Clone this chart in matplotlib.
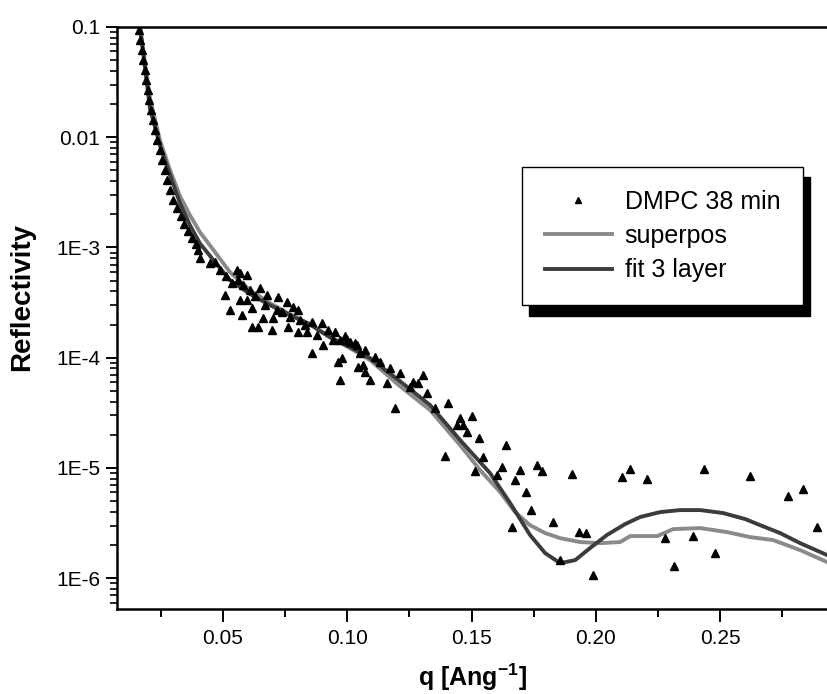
import numpy as np
import matplotlib
matplotlib.use('Agg')
from matplotlib import pyplot as plt
from matplotlib.ticker import FixedLocator, LogLocator, FuncFormatter, NullFormatter

plt.rcParams['font.family'] = 'Liberation Sans'
plt.rcParams['mathtext.fontset'] = 'custom'
plt.rcParams['mathtext.rm'] = 'Liberation Sans'
plt.rcParams['mathtext.bf'] = 'Liberation Sans:bold'

# measured data, DMPC 38 min
data_q = [0.0162, 0.0166, 0.0174, 0.0178, 0.0186, 0.0190, 0.0198, 0.0202, 0.0210, 0.0218,
          0.0226, 0.0234, 0.0246, 0.0255, 0.0267, 0.0275, 0.0287, 0.0299, 0.0315, 0.0331,
          0.0343, 0.0359, 0.0375, 0.0391, 0.0399, 0.0407,
          0.0448, 0.0468, 0.0488, 0.0508, 0.0512, 0.0528, 0.0536, 0.0556, 0.0560, 0.0568,
          0.0568, 0.0576, 0.0580, 0.0597, 0.0597, 0.0609, 0.0617, 0.0617, 0.0629, 0.0641,
          0.0649, 0.0661, 0.0669, 0.0677, 0.0697, 0.0701, 0.0717, 0.0721, 0.0737, 0.0758,
          0.0762, 0.0770, 0.0782, 0.0802, 0.0802, 0.0810, 0.0830, 0.0838, 0.0858, 0.0858,
          0.0878, 0.0898, 0.0902, 0.0923, 0.0943, 0.0951, 0.0963, 0.0971, 0.0971, 0.0979,
          0.0991, 0.0999, 0.1011, 0.1031, 0.1039, 0.1043, 0.1051, 0.1063, 0.1071, 0.1071,
          0.1092, 0.1112, 0.1132, 0.1160, 0.1172, 0.1192, 0.1212, 0.1252, 0.1265, 0.1285,
          0.1305, 0.1321, 0.1353, 0.1393, 0.1405, 0.1442, 0.1454, 0.1466, 0.1482, 0.1502,
          0.1514, 0.1530, 0.1546, 0.1603, 0.1623, 0.1639, 0.1663, 0.1675, 0.1695, 0.1719,
          0.1739, 0.1764, 0.1784, 0.1828, 0.1856, 0.1904, 0.1933, 0.1961, 0.1989, 0.2106,
          0.2138, 0.2206, 0.2279, 0.2315, 0.2391, 0.2436, 0.2480, 0.2621, 0.2774, 0.2834,
          0.2890]
data_R = [0.0933, 0.0757, 0.0615, 0.0499, 0.0405, 0.0329, 0.0267, 0.0216, 0.0176, 0.0143,
          0.0116, 0.00939, 0.00762, 0.00618, 0.00502, 0.00407, 0.00331, 0.00268, 0.00227, 0.00192,
          0.00163, 0.00141, 0.00121, 0.00107, 9.45e-4, 8.0e-4,
          7.21e-4, 7.36e-4, 6.22e-4, 3.69e-4, 5.49e-4, 2.70e-4, 4.74e-4, 6.22e-4, 5.05e-4, 5.85e-4,
          3.33e-4, 2.43e-4, 4.55e-4, 5.61e-4, 3.33e-4, 4.10e-4, 2.82e-4, 1.89e-4, 3.62e-4, 1.89e-4,
          4.28e-4, 2.29e-4, 3.00e-4, 3.69e-4, 1.78e-4, 2.29e-4, 2.70e-4, 3.54e-4, 2.59e-4, 3.19e-4,
          1.89e-4, 2.33e-4, 2.88e-4, 2.70e-4, 1.71e-4, 2.19e-4, 1.98e-4, 1.71e-4, 2.10e-4, 1.10e-4,
          1.60e-4, 2.06e-4, 1.30e-4, 1.78e-4, 1.44e-4, 1.71e-4, 9.12e-5, 1.44e-4, 6.26e-5, 9.92e-5,
          1.57e-4, 1.44e-4, 1.38e-4, 1.36e-4, 1.30e-4, 8.22e-5, 1.10e-4, 8.57e-5, 1.17e-4, 7.40e-5,
          6.26e-5, 1.01e-4, 9.12e-5, 5.89e-5, 8.05e-5, 3.49e-5, 7.26e-5, 5.42e-5, 6.01e-5, 5.89e-5,
          6.96e-5, 4.78e-5, 3.49e-5, 1.28e-5, 3.88e-5, 2.45e-5, 2.83e-5, 2.45e-5, 2.12e-5, 2.95e-5,
          9.37e-6, 1.87e-5, 1.26e-5, 8.62e-6, 1.02e-5, 1.61e-5, 2.91e-6, 7.77e-6, 9.57e-6, 6.05e-6,
          4.15e-6, 1.06e-5, 9.37e-6, 3.23e-6, 1.46e-6, 8.80e-6, 2.62e-6, 2.57e-6, 1.07e-6, 8.27e-6,
          9.77e-6, 7.93e-6, 2.31e-6, 1.29e-6, 2.41e-6, 9.77e-6, 1.69e-6, 8.44e-6, 5.56e-6, 6.44e-6,
          2.91e-6]

# superposition curve
sup_q = [0.0166, 0.0206, 0.0246, 0.0287, 0.0327, 0.0367, 0.0407, 0.0468, 0.0528, 0.0609,
         0.0689, 0.0770, 0.0850, 0.0931, 0.1011, 0.1092, 0.1212, 0.1333, 0.1454, 0.1534,
         0.1615, 0.1675, 0.1735, 0.1796, 0.1856, 0.1937, 0.2017, 0.2098, 0.2138, 0.2247,
         0.2311, 0.2420, 0.2528, 0.2621, 0.2713, 0.2822, 0.2931]
sup_R = [1.0e-1, 2.26e-2, 9.40e-3, 5.02e-3, 2.92e-3, 1.96e-3, 1.38e-3, 9.06e-4, 5.97e-4, 4.10e-4,
         3.13e-4, 2.48e-4, 2.01e-4, 1.53e-4, 1.22e-4, 9.51e-5, 5.52e-5, 3.35e-5, 1.61e-5, 9.57e-6,
         6.05e-6, 3.98e-6, 3.03e-6, 2.57e-6, 2.31e-6, 2.13e-6, 2.08e-6, 2.13e-6, 2.41e-6, 2.41e-6,
         2.79e-6, 2.85e-6, 2.62e-6, 2.36e-6, 2.22e-6, 1.80e-6, 1.40e-6]

# 3 layer fit
fit_q = [0.0166, 0.0206, 0.0246, 0.0287, 0.0327, 0.0367, 0.0407, 0.0468, 0.0528, 0.0609,
         0.0689, 0.0770, 0.0850, 0.0931, 0.1011, 0.1092, 0.1212, 0.1333, 0.1454, 0.1574,
         0.1655, 0.1735, 0.1796, 0.1856, 0.1917, 0.1977, 0.2045, 0.2118, 0.2178, 0.2259,
         0.2339, 0.2420, 0.2512, 0.2601, 0.2661, 0.2741, 0.2822, 0.2931]
fit_R = [1.0e-1, 1.83e-2, 8.47e-3, 4.53e-3, 2.52e-3, 1.59e-3, 1.09e-3, 7.36e-4, 5.06e-4, 3.78e-4,
         3.00e-4, 2.43e-4, 2.01e-4, 1.53e-4, 1.25e-4, 9.91e-5, 6.12e-5, 3.72e-5, 1.79e-5, 9.0e-6,
         4.81e-6, 2.47e-6, 1.69e-6, 1.37e-6, 1.46e-6, 1.88e-6, 2.47e-6, 3.10e-6, 3.59e-6, 3.98e-6,
         4.15e-6, 4.15e-6, 3.90e-6, 3.44e-6, 3.03e-6, 2.57e-6, 2.08e-6, 1.62e-6]

x_major = [0.05, 0.10, 0.15, 0.20, 0.25]
x_minor = [0.025, 0.075, 0.125, 0.175, 0.225, 0.275]
y_labels = {1e-6: '1E-6', 1e-5: '1E-5', 1e-4: '1E-4', 1e-3: '1E-3', 1e-2: '0.01', 1e-1: '0.1'}

fig = plt.figure(figsize=(8.27, 6.94), dpi=100)
ax = fig.add_axes([0.1415, 0.1225, 0.8585, 0.8386])

ax.plot(sup_q, sup_R, color='#8a8a8a', lw=2.8, label='superpos', zorder=2)
ax.plot(fit_q, fit_R, color='#3c3c3c', lw=2.8, label='fit 3 layer', zorder=2.5)
ax.plot(data_q, data_R, ls='none', marker='^', ms=5.5, color='black', label='DMPC 38 min', zorder=3)

ax.set_yscale('log')
ax.set_xlim(0.00735, 0.2930)
ax.set_ylim(5.26e-7, 0.1)

ax.xaxis.set_major_locator(FixedLocator(x_major))
ax.xaxis.set_minor_locator(FixedLocator(x_minor))
ax.xaxis.set_major_formatter(FuncFormatter(lambda v, p: '%.2f' % v))
ax.yaxis.set_major_locator(FixedLocator(list(y_labels)))
ax.yaxis.set_minor_locator(LogLocator(base=10, subs=np.arange(2, 10), numticks=20))
ax.yaxis.set_major_formatter(FuncFormatter(lambda v, p: y_labels.get(v, '')))
ax.yaxis.set_minor_formatter(NullFormatter())

ax.tick_params(axis='x', which='major', direction='out', length=9.4, width=1.4, labelsize=15, pad=5)
ax.tick_params(axis='x', which='minor', direction='out', length=5.5, width=1.4)
ax.tick_params(axis='y', which='major', direction='out', length=8, width=1.4, labelsize=15, pad=4)
ax.tick_params(axis='y', which='minor', direction='out', length=5, width=1.2)

ax.spines['right'].set_visible(False)
for s in ['left', 'bottom', 'top']:
    ax.spines[s].set_linewidth(1.8)

ax.set_xlabel(r'q [Ang$^{\mathbf{-1}}$]', fontsize=18, fontweight='bold')
ax.set_ylabel('Reflectivity', fontsize=20, fontweight='bold')
ax.xaxis.set_label_coords(0.5, -0.090)
ax.yaxis.set_label_coords(-0.1155, 0.536)

h, l = ax.get_legend_handles_labels()
order = [2, 0, 1]
leg = ax.legend([h[i] for i in order], [l[i] for i in order],
                loc='upper left', bbox_to_anchor=(0.570, 0.7595), borderaxespad=0,
                fancybox=False, edgecolor='black', framealpha=1, fontsize=18,
                handlelength=2.7, handletextpad=0.5, labelspacing=0.41,
                borderpad=0.92, markerscale=0.8,
                shadow={'color': 'black', 'alpha': 1, 'ox': 5, 'oy': -7.5})
leg.get_frame().set_linewidth(1.0)

fig.savefig('out.png', dpi=100)
